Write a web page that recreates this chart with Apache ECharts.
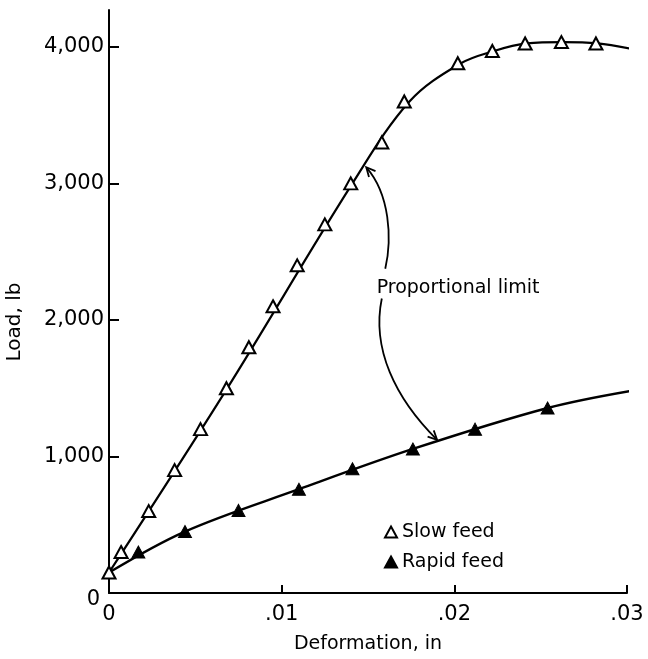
<!DOCTYPE html>
<html>
<head>
<meta charset="utf-8">
<script src="https://cdn.jsdelivr.net/npm/echarts@6/dist/echarts.min.js"></script>
<style>
  html, body { margin: 0; background: #fff; }
  #chart { width: 648px; height: 659px; }
</style>
</head>
<body>
<div id="chart"></div>
<script>
// measured points (deformation in inches, load in lb)
var slowX = [0, 0.0007, 0.0023, 0.0038, 0.0053, 0.0068, 0.0081, 0.0095, 0.0109, 0.0125, 0.0140, 0.0158, 0.0171, 0.0202, 0.0222, 0.0241, 0.0262, 0.0282];
var slowY = [150, 300, 600, 900, 1200, 1500, 1800, 2100, 2400, 2700, 3000, 3300, 3600, 3880, 3970, 4025, 4035, 4025];
var rapidX = [0.0017, 0.0044, 0.0075, 0.0110, 0.0141, 0.0176, 0.0212, 0.0254];
var rapidY = [300, 450, 605, 760, 910, 1055, 1200, 1355];

// faired curves as drawn in the figure
var slowCurveX = [0, 0.0068, 0.0141, 0.0174, 0.0203, 0.0223, 0.0242, 0.0263, 0.0283, 0.0303];
var slowCurveY = [150, 1490, 3000, 3600, 3875, 3970, 4025, 4035, 4025, 3985];
var rapidCurveX = [0, 0.0044, 0.0110, 0.0176, 0.0254, 0.0302];
var rapidCurveY = [150, 450, 760, 1055, 1355, 1480];

var yTicks = [0, 1000, 2000, 3000, 4000];

function zip(xs, ys) {
  return xs.map(function (x, i) { return [x, ys[i]]; });
}

var font = 'DejaVu Sans';
var myChart = echarts.init(document.getElementById('chart'));

myChart.setOption({
  animation: false,
  textStyle: { fontFamily: font, color: '#000' },
  grid: { left: 109, right: 21, top: 10, bottom: 63 },
  legend: {
    data: ['Slow feed', 'Rapid feed'],
    orient: 'vertical',
    left: 379,
    top: 517,
    itemWidth: 12,
    itemHeight: 11,
    itemGap: 10,
    textStyle: { fontFamily: font, fontSize: 19, color: '#000', lineHeight: 20 }
  },
  xAxis: {
    type: 'value',
    min: 0,
    max: 0.03,
    interval: 0.01,
    name: 'Deformation, in',
    nameLocation: 'middle',
    nameGap: 42,
    nameTextStyle: { fontSize: 19, color: '#000' },
    axisLine: { lineStyle: { color: '#000', width: 2 } },
    axisTick: { inside: true, length: 8, lineStyle: { color: '#000', width: 2 } },
    axisLabel: {
      margin: 11,
      fontSize: 21,
      color: '#000',
      formatter: function (v) { return v === 0 ? '0' : v.toFixed(2).replace(/^0/, ''); }
    },
    splitLine: { show: false }
  },
  yAxis: {
    type: 'value',
    min: 0,
    max: 4270,
    interval: 1000,
    axisLine: { lineStyle: { color: '#000', width: 2 } },
    axisTick: { inside: true, length: 10, customValues: yTicks.slice(1), lineStyle: { color: '#000', width: 2 } },
    axisLabel: {
      margin: 5,
      fontSize: 21,
      color: '#000',
      customValues: yTicks,
      formatter: function (v) { return v === 0 ? '{z|0}' : v.toLocaleString('en-US'); },
      rich: { z: { fontSize: 21, fontFamily: font, padding: [14, 4, 0, 0] } }
    },
    splitLine: { show: false }
  },
  series: [
    {
      type: 'line', name: 'slow curve', data: zip(slowCurveX, slowCurveY),
      smooth: 0.35, showSymbol: false, clip: false, silent: true,
      lineStyle: { color: '#000', width: 2.2 }, z: 2
    },
    {
      type: 'line', name: 'rapid curve', data: zip(rapidCurveX, rapidCurveY),
      smooth: 0.35, showSymbol: false, clip: false, silent: true,
      lineStyle: { color: '#000', width: 2.4 }, z: 2
    },
    {
      type: 'scatter', name: 'Slow feed', data: zip(slowX, slowY),
      symbol: 'triangle', symbolSize: [13, 12],
      itemStyle: { color: '#fff', borderColor: '#000', borderWidth: 2, opacity: 1 }, z: 3
    },
    {
      type: 'scatter', name: 'Rapid feed', data: zip(rapidX, rapidY),
      symbol: 'triangle', symbolSize: [13, 12],
      itemStyle: { color: '#000', borderColor: '#000', borderWidth: 1, opacity: 1 }, z: 3
    }
  ]
});

// "Proportional limit" note with two curved arrows (data-space anchors)
var noteAnchor = [0.0155, 2235];
var upperArrow = [[0.0160, 2375], [0.0164, 2594], [0.01627, 2922], [0.0149, 3118]];
var lowerArrow = [[0.0158, 2157], [0.0152, 1792], [0.01656, 1428], [0.0190, 1122]];

function px(p) { return myChart.convertToPixel({ gridIndex: 0 }, p); }

function arrow(pts) {
  var p = pts.map(px);
  var tip = p[3], from = p[2];
  var dx = tip[0] - from[0], dy = tip[1] - from[1];
  var len = Math.sqrt(dx * dx + dy * dy);
  dx /= len; dy /= len;
  var a = 0.45, L = 10;
  function rot(s) {
    var c = Math.cos(s * a), sn = Math.sin(s * a);
    return [tip[0] - L * (dx * c - dy * sn), tip[1] - L * (dx * sn + dy * c)];
  }
  return [
    {
      type: 'bezierCurve',
      shape: { x1: p[0][0], y1: p[0][1], cpx1: p[1][0], cpy1: p[1][1], cpx2: p[2][0], cpy2: p[2][1], x2: tip[0], y2: tip[1] },
      style: { stroke: '#000', lineWidth: 1.8, fill: null }
    },
    {
      type: 'polyline',
      shape: { points: [rot(1), tip, rot(-1)] },
      style: { stroke: '#000', lineWidth: 1.8, fill: null }
    }
  ];
}

var notePos = px(noteAnchor);
myChart.setOption({
  graphic: [
    {
      type: 'text', x: notePos[0], y: notePos[1],
      style: { text: 'Proportional limit', font: '19px "' + font + '"', fill: '#000', verticalAlign: 'middle' }
    },
    {
      type: 'text', x: 15, y: 322, rotation: Math.PI / 2,
      style: { text: 'Load, lb', font: '20px "' + font + '"', fill: '#000', align: 'center', verticalAlign: 'middle' }
    }
  ].concat(arrow(upperArrow), arrow(lowerArrow))
});
</script>
</body>
</html>
